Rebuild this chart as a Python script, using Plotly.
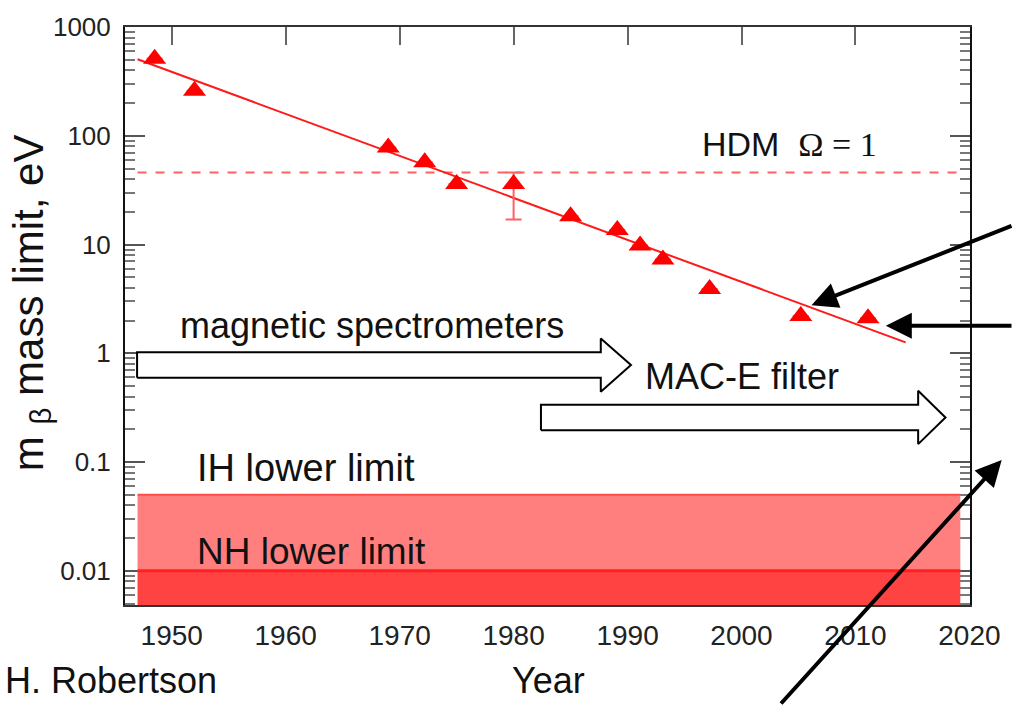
import plotly.graph_objects as go
import numpy as np

# ---- data ----
years = [1948.5, 1952.0, 1969.0, 1972.2, 1975.0, 1980.0, 1985.0, 1989.1, 1991.1, 1993.1, 1997.2, 2005.2, 2011.1]
limits = [510, 260, 78, 57, 36, 36, 18.2, 13.6, 9.8, 7.3, 3.9, 2.2, 2.1]
err_plus = [0, 0, 0, 0, 0, 10, 0, 0, 0, 0, 0, 0, 0]
err_minus = [0, 0, 0, 0, 0, 19, 0, 0, 0, 0, 0, 0, 0]

fit_years = [1947.0, 2014.4]
fit_values = [505, 1.26]

hdm_years = [1947.0, 2019.2]
hdm_value = 46

band_years = [1947.0, 2019.2]
ih_limit = 0.05
nh_limit = 0.01
band_floor = 0.001

# block arrows (years, log10 centre)
arrow_start = [1946.96, 1982.4]
arrow_headbase = [1987.65, 2015.5]
arrow_tip = [1990.3, 2017.9]
arrow_center_log = [-0.108, -0.59]
shaft_half = 0.117
head_half = 0.245

x_ticks = [1950, 1960, 1970, 1980, 1990, 2000, 2010, 2020]
y_ticks = [0.01, 0.1, 1, 10, 100, 1000]
y_ticklabels = ["0.01", "0.1", "1", "10", "100", "1000"]

FONT = "Liberation Sans, Arial, sans-serif"

fig = go.Figure()

# NH band
fig.add_trace(go.Scatter(
    x=[band_years[0], band_years[1], band_years[1], band_years[0], band_years[0]],
    y=[band_floor, band_floor, nh_limit, nh_limit, band_floor],
    fill="toself", fillcolor="#ff4242", mode="lines",
    line=dict(color="#ff4242", width=0), hoverinfo="skip", showlegend=False))
# IH band
fig.add_trace(go.Scatter(
    x=[band_years[0], band_years[1], band_years[1], band_years[0], band_years[0]],
    y=[nh_limit, nh_limit, ih_limit, ih_limit, nh_limit],
    fill="toself", fillcolor="#ff7f7f", mode="lines",
    line=dict(color="#ff7f7f", width=0), hoverinfo="skip", showlegend=False))
# band edges
fig.add_trace(go.Scatter(x=band_years, y=[ih_limit, ih_limit], mode="lines",
                         line=dict(color="#ff4d4d", width=2), showlegend=False))
fig.add_trace(go.Scatter(x=band_years, y=[nh_limit, nh_limit], mode="lines",
                         line=dict(color="#ff2020", width=3), showlegend=False))

# HDM line
fig.add_trace(go.Scatter(x=hdm_years, y=[hdm_value, hdm_value], mode="lines",
                         line=dict(color="#ff6060", width=2, dash="dash"), showlegend=False))

# fit line
fig.add_trace(go.Scatter(x=fit_years, y=fit_values, mode="lines",
                         line=dict(color="#ff1a1a", width=2), showlegend=False))

# data points
fig.add_trace(go.Scatter(
    x=years, y=limits, mode="markers",
    marker=dict(symbol="triangle-up", size=20, color="#ff0000"),
    error_y=dict(type="data", symmetric=False, array=err_plus, arrayminus=err_minus,
                 color="#ff6060", thickness=2, width=8),
    showlegend=False))

# block arrows
for xs, xb, xt, c in zip(arrow_start, arrow_headbase, arrow_tip, arrow_center_log):
    lo, hi = 10 ** (c - shaft_half), 10 ** (c + shaft_half)
    hlo, hhi = 10 ** (c - head_half), 10 ** (c + head_half)
    mid = 10 ** c
    fig.add_trace(go.Scatter(
        x=[xs, xb, xb, xt, xb, xb, xs, xs],
        y=[lo, lo, hlo, mid, hhi, hi, hi, lo],
        fill="toself", fillcolor="white", mode="lines",
        line=dict(color="black", width=2), hoverinfo="skip", showlegend=False))

L, R, T, B = 125, 35, 15, 100
W, H = 1013, 705
pw, ph = W - L - R, H - T - B


def px(x):
    return (x - L) / pw


def py(y):
    return (H - B - y) / ph


annotations = [
    dict(text="HDM  <span style='font-family:Liberation Serif, serif'>Ω = 1</span>",
         x=px(705), y=py(134), xanchor="left", yanchor="middle", font=dict(size=34)),
    dict(text="magnetic spectrometers", x=px(178), y=py(320), xanchor="left", yanchor="middle",
         font=dict(size=36)),
    dict(text="MAC-E filter", x=px(648), y=py(372), xanchor="left", yanchor="middle",
         font=dict(size=36)),
    dict(text="IH lower limit", x=px(196), y=py(465), xanchor="left", yanchor="middle",
         font=dict(size=38)),
    dict(text="NH lower limit", x=px(196), y=py(550), xanchor="left", yanchor="middle",
         font=dict(size=37)),
    dict(text="H. Robertson", x=px(2), y=py(682), xanchor="left", yanchor="middle",
         font=dict(size=36)),
    dict(text="Year", x=px(553), y=py(682), xanchor="center", yanchor="middle",
         font=dict(size=36)),
    dict(text="m <sub>β</sub> mass limit, eV", x=px(30), y=py(296), xanchor="center",
         yanchor="middle", textangle=-90, font=dict(size=42)),
]
for a in annotations:
    a.update(xref="paper", yref="paper", showarrow=False)
    a["font"].update(family=FONT, color="#111")

# black pointer arrows
pointers = [
    dict(x=px(818), y=py(299), ax=205, ay=-80),
    dict(x=px(893), y=py(320), ax=130, ay=0),
    dict(x=px(1010), y=py(457), ax=-222, ay=256),
]
for p in pointers:
    p.update(xref="paper", yref="paper", text="", showarrow=True, arrowhead=2,
             arrowsize=1.3, arrowwidth=4, arrowcolor="black")
annotations += pointers

fig.update_layout(
    width=W, height=H,
    margin=dict(l=L, r=R, t=T, b=B),
    paper_bgcolor="white", plot_bgcolor="white",
    font=dict(family=FONT, color="#222"),
    annotations=annotations,
    xaxis=dict(range=[1945.9, 2020.05], tickvals=x_ticks, ticks="inside", ticklen=18,
               tickwidth=2, tickcolor="#666", showline=True, linecolor="#333", linewidth=2,
               mirror="ticks", showgrid=False, zeroline=False, tickfont=dict(size=28, color="#222"),
               ticklabelstandoff=4, layer="below traces"),
    yaxis=dict(type="log", range=[np.log10(0.00485), 3], tickvals=y_ticks, ticktext=y_ticklabels,
               ticks="inside", ticklen=20, tickwidth=2, tickcolor="#555", showline=True,
               linecolor="#111", linewidth=2, mirror="ticks", showgrid=False, zeroline=False,
               tickfont=dict(size=26, color="#222"), ticklabelstandoff=7, layer="below traces",
               minor=dict(ticks="inside", ticklen=10, tickwidth=2, tickcolor="#777", dtick="D1",
                          showgrid=False)),
)

fig.write_html("out.html")
